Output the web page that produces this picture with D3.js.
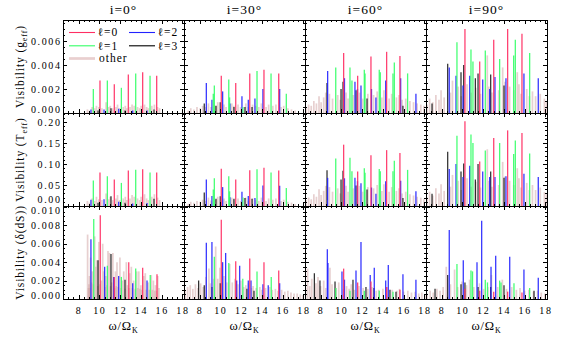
<!DOCTYPE html>
<html><head><meta charset="utf-8">
<script src="https://cdn.jsdelivr.net/npm/d3@7"></script>
<style>body{margin:0;background:#fff}svg{display:block}text{font-family:"Liberation Serif",serif}</style>
</head><body><svg id="c" width="566" height="340"></svg>
<script>
// ---------- tick / label data ----------
const inclinations = ["i=0°","i=30°","i=60°","i=90°"];
const xTicks = [8,10,12,14,16,18];
const yTicksG = [0,0.002,0.004,0.006];
const yTicksT = [0,0.05,0.10,0.15,0.20];
const yTicksD = [0,0.002,0.004,0.006,0.008,0.010];
const legendLabels = ["ℓ=0","ℓ=1","ℓ=2","ℓ=3","other"];

// ---------- i=0 ----------
const g0_l0=[[10.06,0.0027],[11.44,0.0024],[12.79,0.0032],[14.17,0.0034],[15.52,0.0031]];
const g0_l1=[[9.42,0.0020],[10.77,0.0027],[12.12,0.0021],[13.50,0.0033],[14.88,0.0031]];
const g0_l2=[[9.19,0.0003],[10.45,0.0003],[11.86,0.00035],[13.21,0.0002],[14.59,0.0002]];
const g0_l3=[[9.87,0.0002],[11.12,0.0004],[12.47,0.0002],[15.26,0.0003]];
const g0_oth=[[8.85,0.0003],[9.05,0.0002],[9.3,0.0005],[9.55,0.0004],[9.72,0.0006],[9.95,0.0005],[10.25,0.0004],[10.65,0.0009],[10.9,0.0005],[11.05,0.0006],[11.28,0.0004],[11.6,0.0005],[11.75,0.0007],[11.95,0.0004],[12.3,0.0005],[12.5,0.0006],[12.65,0.0004],[12.95,0.0005],[13.15,0.0007],[13.35,0.0006],[13.68,0.0005],[13.88,0.0004],[14.02,0.0006],[14.35,0.0007],[14.55,0.0005],[14.72,0.0004],[15.05,0.0006],[15.3,0.0007],[15.6,0.0005],[15.8,0.0004]];
const t0_l0=[[10.06,0.080],[11.44,0.063],[12.79,0.0845],[14.17,0.0874],[15.52,0.0795]];
const t0_l1=[[9.42,0.061],[10.77,0.071],[12.12,0.055],[13.50,0.0864],[14.88,0.080]];
const t0_l2=[[9.19,0.015],[10.45,0.016],[11.86,0.010],[13.21,0.006],[14.59,0.007]];
const t0_l3=[[9.87,0.008],[11.12,0.023],[12.47,0.008],[15.26,0.017]];
const t0_oth=[[8.85,0.012],[9.05,0.008],[9.3,0.018],[9.55,0.012],[9.72,0.022],[9.95,0.016],[10.25,0.014],[10.65,0.03],[10.9,0.016],[11.05,0.022],[11.28,0.014],[11.6,0.018],[11.75,0.026],[11.95,0.014],[12.3,0.018],[12.5,0.022],[12.65,0.014],[12.95,0.018],[13.15,0.026],[13.35,0.022],[13.68,0.018],[13.88,0.014],[14.02,0.022],[14.35,0.028],[14.55,0.018],[14.72,0.014],[15.05,0.022],[15.3,0.028],[15.6,0.02],[15.8,0.014]];
const d0_l0=[[10.09,0.0091],[11.44,0.0024],[12.83,0.0040],[14.17,0.0034],[15.55,0.0027]];
const d0_l1=[[9.46,0.0087],[10.77,0.0036],[12.12,0.0024],[13.50,0.0033],[14.90,0.0026]];
const d0_l2=[[9.19,0.0065],[10.51,0.0035],[11.38,0.0024],[11.86,0.0025],[13.21,0.0017],[14.59,0.0020]];
const d0_l3=[[9.87,0.0042],[11.12,0.0049],[12.47,0.0021]];
const d0_oth=[[8.87,0.0070],[8.95,0.0012],[9.0,0.0016],[9.05,0.0025],[9.1,0.0012],[9.15,0.0045],[9.25,0.0018],[9.32,0.0030],[9.42,0.0016],[9.55,0.0068],[9.66,0.0035],[9.76,0.0042],[9.85,0.0014],[9.95,0.0062],[10.05,0.0016],[10.2,0.0020],[10.32,0.0060],[10.42,0.0030],[10.55,0.0013],[10.63,0.0025],[10.73,0.0015],[10.83,0.0052],[10.98,0.0050],[11.08,0.0014],[11.2,0.0018],[11.3,0.0050],[11.48,0.0012],[11.55,0.0030],[11.62,0.0014],[11.7,0.0040],[11.8,0.0013],[11.98,0.0045],[12.08,0.0012],[12.2,0.0020],[12.35,0.0030],[12.48,0.0011],[12.6,0.0040],[12.7,0.0015],[12.86,0.0012],[12.93,0.0028],[13.08,0.0035],[13.18,0.0012],[13.3,0.0020],[13.45,0.0011],[13.6,0.0030],[13.7,0.0012],[13.8,0.0030],[13.9,0.0011],[14.0,0.0015],[14.1,0.0010],[14.28,0.0025],[14.42,0.0028],[14.52,0.0010],[14.7,0.0018],[14.8,0.0010],[15.0,0.0026],[15.1,0.0010],[15.2,0.0020],[15.32,0.0009],[15.4,0.0015],[15.5,0.0009],[15.62,0.0025],[15.74,0.0012]];

// ---------- i=30 ----------
const g30_l0=[[10.09,0.0031],[11.48,0.0025],[12.83,0.0033],[14.20,0.0036],[15.62,0.0033]];
const g30_l1=[[9.32,0.0016],[9.42,0.0023],[10.81,0.0028],[10.89,0.0013],[12.18,0.0005],[13.53,0.0035],[14.88,0.0033],[16.35,0.0016]];
const g30_l2=[[8.65,0.0025],[9.19,0.0011],[10.22,0.0018],[10.93,0.0008],[12.08,0.0014],[12.69,0.0011],[13.33,0.0012],[14.10,0.0020],[15.71,0.0020]];
const g30_l3=[[8.45,0.0008],[9.58,0.0006],[9.99,0.0009],[11.31,0.0005],[12.37,0.0005],[13.05,0.0005]];
const g30_oth=[[6.9,0.0002],[7.15,0.0004],[7.45,0.0003],[7.75,0.0005],[8.05,0.0004],[8.3,0.0006],[8.6,0.0005],[8.85,0.0008],[9.1,0.0005],[9.55,0.0006],[9.75,0.0009],[10.35,0.0007],[10.55,0.0005],[11.1,0.0008],[11.3,0.0006],[11.7,0.0007],[11.95,0.0005],[12.45,0.0008],[12.7,0.0005],[13.1,0.0007],[13.4,0.0006],[13.7,0.0005],[13.95,0.0008],[14.4,0.0005],[14.65,0.0007],[15.05,0.0006],[15.35,0.0007],[15.85,0.0005],[16.1,0.0006],[16.5,0.0004],[16.85,0.0003],[17.2,0.0002]];
const t30_l0=[[10.09,0.0884],[11.48,0.063],[12.83,0.0854],[14.20,0.0913],[15.62,0.0844]];
const t30_l1=[[9.32,0.039],[9.42,0.066],[10.81,0.071],[10.89,0.035],[12.18,0.020],[13.53,0.0874],[14.88,0.080],[16.35,0.043]];
const t30_l2=[[8.65,0.063],[9.19,0.024],[10.22,0.045],[10.93,0.021],[12.08,0.034],[12.69,0.024],[13.33,0.019],[14.10,0.049],[15.71,0.048]];
const t30_l3=[[8.45,0.032],[9.58,0.017],[9.99,0.023],[11.31,0.017],[12.37,0.019],[13.05,0.017]];
const t30_oth=[[6.9,0.005],[7.15,0.01],[7.45,0.008],[7.75,0.012],[8.05,0.01],[8.3,0.015],[8.6,0.012],[8.85,0.02],[9.1,0.013],[9.55,0.015],[9.75,0.022],[10.35,0.018],[10.55,0.012],[11.1,0.02],[11.3,0.015],[11.7,0.018],[11.95,0.012],[12.45,0.02],[12.7,0.012],[13.1,0.018],[13.4,0.015],[13.7,0.012],[13.95,0.02],[14.4,0.012],[14.65,0.018],[15.05,0.015],[15.35,0.018],[15.85,0.012],[16.1,0.015],[16.5,0.01],[16.85,0.008],[17.2,0.005]];
const d30_l0=[[10.09,0.0086],[11.48,0.0041],[12.83,0.0044],[14.20,0.0040],[15.62,0.0031]];
const d30_l1=[[9.42,0.0046],[10.81,0.0039],[12.16,0.0022],[13.53,0.0030],[14.90,0.0024]];
const d30_l2=[[8.65,0.0061],[9.19,0.0062],[10.22,0.0040],[10.51,0.0050],[11.57,0.0020],[11.86,0.0036],[12.69,0.0020],[12.95,0.0020],[14.10,0.0016],[14.61,0.0015],[15.71,0.0017]];
const d30_l3=[[7.91,0.0020],[8.45,0.0015],[9.19,0.0013],[9.99,0.0017],[12.56,0.0011],[13.24,0.0009]];
const d30_oth=[[6.6,0.0010],[6.85,0.0013],[7.1,0.0015],[7.35,0.0011],[7.6,0.0016],[7.85,0.0012],[8.1,0.0017],[8.35,0.0013],[8.6,0.0024],[8.9,0.0033],[9.05,0.0017],[9.35,0.0022],[9.55,0.0057],[9.75,0.0022],[9.95,0.0034],[10.15,0.0018],[10.35,0.0025],[10.62,0.0018],[10.9,0.0038],[11.15,0.0018],[11.4,0.0022],[11.7,0.0016],[11.98,0.0020],[12.25,0.0013],[12.45,0.0015],[12.7,0.0017],[13.0,0.0012],[13.15,0.0014],[13.45,0.0012],[13.8,0.0013],[14.0,0.0010],[14.35,0.0012],[14.75,0.0013],[15.0,0.0010],[15.3,0.0011],[15.55,0.0009],[15.9,0.0010],[16.2,0.0008],[16.5,0.0009],[16.8,0.0007],[17.1,0.0006],[17.4,0.0006],[17.7,0.0005],[17.95,0.0004]];

// ---------- i=60 ----------
const g60_l0=[[10.22,0.0050],[11.57,0.0031],[12.85,0.0047],[14.36,0.0051],[15.64,0.00475]];
const g60_l1=[[9.46,0.0038],[10.83,0.0038],[11.02,0.0027],[12.21,0.0036],[12.28,0.0033],[13.65,0.0036],[13.75,0.0034],[14.97,0.0033],[15.10,0.0042],[16.38,0.0033]];
const g60_l2=[[8.68,0.0035],[10.30,0.0029],[11.31,0.0026],[11.55,0.0020],[11.89,0.0023],[12.90,0.0020],[13.33,0.0013],[14.27,0.0027],[15.71,0.0029],[17.18,0.0016]];
const g60_l3=[[8.62,0.0025],[9.97,0.0020],[10.16,0.0026],[11.41,0.0019],[12.47,0.0012],[15.93,0.0006]];
const g60_oth=[[6.6,0.0005],[6.85,0.0007],[7.1,0.0006],[7.35,0.0010],[7.6,0.0008],[7.85,0.0014],[8.05,0.0009],[8.3,0.0013],[8.5,0.0017],[8.85,0.0016],[9.15,0.0012],[9.65,0.0015],[9.9,0.0011],[10.45,0.0017],[10.65,0.0012],[11.15,0.0015],[11.75,0.0017],[12.05,0.0012],[12.55,0.0016],[13.1,0.0015],[13.45,0.0018],[13.9,0.0013],[14.1,0.0019],[14.6,0.0012],[14.85,0.0016],[15.3,0.0013],[15.55,0.0015],[15.85,0.0011],[16.2,0.0012],[16.6,0.0010],[16.95,0.0009],[17.3,0.0008],[17.65,0.0007],[17.95,0.0006]];
const t60_l0=[[10.22,0.146],[11.57,0.082],[12.85,0.121],[14.36,0.133],[15.64,0.126]];
const t60_l1=[[9.46,0.113],[10.83,0.115],[11.02,0.083],[12.21,0.090],[12.28,0.079],[13.65,0.088],[13.75,0.083],[14.97,0.083],[15.10,0.108],[16.38,0.086]];
const t60_l2=[[8.68,0.067],[10.30,0.066],[11.31,0.067],[11.55,0.059],[11.89,0.054],[12.90,0.044],[13.33,0.029],[14.27,0.059],[15.71,0.060],[17.18,0.035]];
const t60_l3=[[8.62,0.085],[9.97,0.063],[10.16,0.084],[11.41,0.049],[12.47,0.039],[15.93,0.019]];
const t60_oth=[[6.6,0.014],[6.85,0.02],[7.1,0.016],[7.35,0.028],[7.6,0.022],[7.85,0.04],[8.05,0.026],[8.3,0.036],[8.5,0.048],[8.85,0.045],[9.15,0.034],[9.65,0.042],[9.9,0.03],[10.45,0.048],[10.65,0.034],[11.15,0.042],[11.75,0.048],[12.05,0.034],[12.55,0.045],[13.1,0.042],[13.45,0.05],[13.9,0.036],[14.1,0.052],[14.6,0.034],[14.85,0.045],[15.3,0.036],[15.55,0.042],[15.85,0.03],[16.2,0.034],[16.6,0.028],[16.95,0.025],[17.3,0.022],[17.65,0.02],[17.95,0.016]];
const d60_l0=[[10.22,0.0033],[11.57,0.0018],[12.85,0.0019],[14.36,0.0013],[15.64,0.0010]];
const d60_l1=[[9.46,0.0012],[10.83,0.0009],[12.21,0.0009],[13.65,0.0009],[14.97,0.0008]];
const d60_l2=[[8.65,0.0054],[8.71,0.0039],[10.06,0.0030],[10.30,0.0021],[11.41,0.0031],[11.89,0.0062],[12.78,0.0026],[13.17,0.0034],[14.27,0.0020],[14.52,0.0037],[15.93,0.0027],[17.18,0.0021]];
const d60_l3=[[7.40,0.0028],[7.94,0.0020],[9.39,0.0019],[11.12,0.0021],[12.37,0.0013],[13.14,0.0012],[14.68,0.0010],[15.26,0.0008]];
const d60_oth=[[6.55,0.0012],[6.75,0.0033],[6.95,0.0014],[7.15,0.0022],[7.55,0.0017],[7.75,0.0024],[8.0,0.0014],[8.3,0.0020],[8.5,0.0012],[8.9,0.0034],[9.1,0.0016],[9.5,0.0012],[9.75,0.0018],[10.2,0.0011],[10.5,0.0014],[10.75,0.0011],[10.95,0.0016],[11.25,0.0010],[11.7,0.0014],[12.1,0.0012],[12.55,0.0011],[12.95,0.0013],[13.35,0.0009],[13.6,0.0010],[14.0,0.0011],[14.4,0.0013],[14.9,0.0010],[15.35,0.0009],[15.6,0.0011],[16.0,0.0008],[16.4,0.0009],[16.75,0.0007],[17.1,0.0008],[17.45,0.0006],[17.75,0.0007],[18.05,0.0005]];

// ---------- i=90 ----------
const g90_l0=[[10.25,0.0070],[11.67,0.0043],[13.02,0.0061],[14.36,0.0070],[15.74,0.0066]];
const g90_l1=[[9.48,0.0059],[10.83,0.0053],[11.02,0.0043],[12.21,0.0052],[13.59,0.0045],[14.94,0.0048],[15.10,0.0061],[16.48,0.0050]];
const g90_l2=[[8.74,0.0038],[9.39,0.0031],[10.06,0.0023],[10.71,0.0031],[11.96,0.0028],[12.63,0.0020],[13.14,0.0030],[14.20,0.0029],[15.93,0.0033],[17.31,0.0029]];
const g90_l3=[[7.08,0.0008],[8.59,0.0041],[9.87,0.0034],[10.13,0.0040],[11.25,0.0029],[11.51,0.0033],[12.73,0.0032],[14.01,0.0023]];
const g90_oth=[[6.6,0.0007],[6.85,0.0012],[7.15,0.0009],[7.45,0.0015],[7.75,0.0011],[7.95,0.0019],[8.25,0.0013],[8.85,0.0017],[9.05,0.0027],[9.6,0.0022],[9.9,0.0014],[10.45,0.0024],[10.85,0.0017],[11.3,0.0021],[11.75,0.0016],[12.4,0.0048],[12.55,0.0022],[12.85,0.0017],[13.5,0.0019],[13.88,0.0038],[14.1,0.0026],[14.55,0.0022],[14.95,0.0019],[15.29,0.0034],[15.45,0.0024],[15.65,0.0016],[16.2,0.0020],[16.45,0.0014],[16.75,0.0018],[17.05,0.0014],[17.5,0.0016],[17.9,0.0012],[18.1,0.0010]];
const t90_l0=[[10.25,0.202],[11.67,0.106],[13.02,0.162],[14.36,0.180],[15.74,0.174]];
const t90_l1=[[9.48,0.167],[10.83,0.170],[11.02,0.150],[12.21,0.132],[13.59,0.150],[14.94,0.124],[15.10,0.156],[16.48,0.125]];
const t90_l2=[[8.74,0.088],[9.39,0.100],[10.06,0.069],[10.71,0.096],[11.96,0.082],[12.63,0.069],[13.14,0.069],[14.20,0.071],[15.93,0.077],[17.31,0.069]];
const t90_l3=[[7.08,0.029],[8.59,0.129],[9.87,0.082],[10.13,0.101],[11.25,0.063],[11.51,0.100],[12.73,0.082],[14.01,0.067]];
const t90_oth=[[6.6,0.02],[6.85,0.034],[7.15,0.025],[7.45,0.042],[7.75,0.03],[7.95,0.052],[8.25,0.036],[8.85,0.046],[9.05,0.074],[9.6,0.06],[9.9,0.038],[10.45,0.066],[10.85,0.046],[11.3,0.058],[11.75,0.044],[12.4,0.135],[12.55,0.06],[12.85,0.046],[13.5,0.05],[13.88,0.105],[14.1,0.07],[14.55,0.06],[14.95,0.05],[15.29,0.09],[15.45,0.066],[15.65,0.044],[16.2,0.055],[16.45,0.038],[16.75,0.05],[17.05,0.038],[17.5,0.044],[17.9,0.033],[18.1,0.028]];
const d90_l0=[[10.25,0.0011],[11.67,0.0009],[13.02,0.0008],[14.36,0.0008],[15.74,0.0007]];
const d90_l1=[[9.48,0.0038],[10.83,0.0031],[10.98,0.0030],[12.21,0.0021],[12.42,0.0018],[13.59,0.0020],[13.72,0.0018],[14.97,0.0017],[16.48,0.0012]];
const d90_l2=[[8.74,0.0075],[10.09,0.0042],[11.41,0.0040],[11.86,0.0085],[12.76,0.0035],[13.21,0.0047],[14.56,0.0046],[15.93,0.0032],[17.31,0.0023]];
const d90_l3=[[7.37,0.0011],[8.59,0.0026],[9.87,0.0016],[10.25,0.0018],[11.51,0.0013],[12.73,0.0013],[14.01,0.0015],[16.90,0.0009]];
const d90_oth=[[6.6,0.0006],[6.9,0.0009],[7.2,0.0007],[7.55,0.0011],[7.85,0.0009],[8.15,0.0013],[8.45,0.0035],[8.85,0.0016],[9.25,0.0032],[9.55,0.0013],[9.95,0.0019],[10.4,0.0015],[10.7,0.0021],[11.1,0.0013],[11.65,0.0017],[12.05,0.0011],[12.45,0.0013],[12.8,0.0026],[13.4,0.0013],[13.85,0.0021],[14.25,0.0011],[14.75,0.0013],[15.2,0.0010],[15.55,0.0012],[16.0,0.0009],[16.4,0.0010],[16.85,0.0008],[17.25,0.0009],[17.6,0.0007],[17.95,0.0006]];

// ---------- table built from the arrays ----------
const panelData = [
  [{l0:g0_l0,l1:g0_l1,l2:g0_l2,l3:g0_l3,oth:g0_oth},{l0:g30_l0,l1:g30_l1,l2:g30_l2,l3:g30_l3,oth:g30_oth},{l0:g60_l0,l1:g60_l1,l2:g60_l2,l3:g60_l3,oth:g60_oth},{l0:g90_l0,l1:g90_l1,l2:g90_l2,l3:g90_l3,oth:g90_oth}],
  [{l0:t0_l0,l1:t0_l1,l2:t0_l2,l3:t0_l3,oth:t0_oth},{l0:t30_l0,l1:t30_l1,l2:t30_l2,l3:t30_l3,oth:t30_oth},{l0:t60_l0,l1:t60_l1,l2:t60_l2,l3:t60_l3,oth:t60_oth},{l0:t90_l0,l1:t90_l1,l2:t90_l2,l3:t90_l3,oth:t90_oth}],
  [{l0:d0_l0,l1:d0_l1,l2:d0_l2,l3:d0_l3,oth:d0_oth},{l0:d30_l0,l1:d30_l1,l2:d30_l2,l3:d30_l3,oth:d30_oth},{l0:d60_l0,l1:d60_l1,l2:d60_l2,l3:d60_l3,oth:d60_oth},{l0:d90_l0,l1:d90_l1,l2:d90_l2,l3:d90_l3,oth:d90_oth}]
];

// ---------- layout & style ----------
const colL=[63,184,305,426], W=121;
const rowT=[20,113,206], H=93;
const x=d3.scaleLinear().domain([6.5,18.15]).range([0,W]);
const yScales=[
  d3.scaleLinear().domain([0,0.00775]).range([H,0]),
  d3.scaleLinear().domain([0,0.2214]).range([H,0]),
  d3.scaleLinear().domain([0,0.0101]).range([H,0])
];
const yMajor=[yTicksG,yTicksT,yTicksD];
const yMinor=[d3.range(0,0.0078,0.0005),d3.range(0,0.221,0.01),d3.range(0,0.0101,0.0005)];
const yFmt=[d3.format(".3f"),d3.format(".2f"),d3.format(".3f")];
const xMinor=d3.range(6.5,18.16,0.5);
const order=["oth","l3","l2","l1","l0"];
const col={l0:"#ff2e63",l1:"#33ff66",l2:"#2222ff",l3:"#000000",oth:"#cfa2a2"};
const op={l0:0.9,l1:0.9,l2:0.9,l3:0.85,oth:0.5};
const sw={l0:1.3,l1:1.3,l2:1.3,l3:1.2,oth:1.7};

const svg=d3.select("#c");
const FONT='"Liberation Serif",serif';

function styleAxis(sel){
  sel.select(".domain").remove();
  sel.selectAll(".tick line").attr("stroke","#000").attr("stroke-width",1).attr("shape-rendering","crispEdges");
  sel.selectAll(".tick text").attr("font-family",FONT).attr("font-size",10).attr("letter-spacing","1.6px").attr("fill","#000");
  sel.attr("font-family",FONT);
}

for(let ri=0;ri<3;ri++){
  for(let ci=0;ci<4;ci++){
    const g=svg.append("g").attr("transform",`translate(${colL[ci]},${rowT[ri]})`);
    const y=yScales[ri];
    const cid=`clip${ri}${ci}`;
    g.append("clipPath").attr("id",cid).append("rect").attr("width",W).attr("height",H);
    const marks=g.append("g").attr("clip-path",`url(#${cid})`);
    order.forEach(k=>{
      marks.append("g").selectAll("line").data(panelData[ri][ci][k]).join("line")
        .attr("x1",d=>x(d[0])).attr("x2",d=>x(d[0]))
        .attr("y1",y(0)).attr("y2",d=>y(d[1]))
        .attr("stroke",col[k]).attr("stroke-width",sw[k]).attr("stroke-opacity",op[k]);
    });
    g.append("rect").attr("width",W).attr("height",H).attr("fill","none")
      .attr("stroke","#000").attr("stroke-width",1).attr("shape-rendering","crispEdges");
    g.append("g").attr("transform",`translate(0,${H})`)
      .call(d3.axisBottom(x).tickValues(xMinor).tickSize(-2).tickFormat("")).call(styleAxis);
    g.append("g").call(d3.axisTop(x).tickValues(xMinor).tickSize(-2).tickFormat("")).call(styleAxis);
    g.append("g").call(d3.axisTop(x).tickValues(xTicks).tickSize(-4).tickFormat("")).call(styleAxis);
    g.append("g").attr("transform",`translate(0,${H})`)
      .call(d3.axisBottom(x).tickValues(xTicks).tickSize(-4).tickPadding(8)
        .tickFormat(ri===2?d3.format("d"):"")).call(styleAxis);
    g.append("g").call(d3.axisLeft(y).tickValues(yMinor[ri]).tickSize(-2).tickFormat("")).call(styleAxis);
    g.append("g").attr("transform",`translate(${W},0)`)
      .call(d3.axisRight(y).tickValues(yMinor[ri]).tickSize(-2).tickFormat("")).call(styleAxis);
    g.append("g").attr("transform",`translate(${W},0)`)
      .call(d3.axisRight(y).tickValues(yMajor[ri]).tickSize(-4).tickFormat("")).call(styleAxis);
    const la=g.append("g")
      .call(d3.axisLeft(y).tickValues(yMajor[ri]).tickSize(-4).tickPadding(1.5)
        .tickFormat(ci===0?yFmt[ri]:"")).call(styleAxis);
    const top=yMajor[ri][yMajor[ri].length-1];
    la.selectAll(".tick text").filter(d=>d===0).attr("y",ri===1?-6.5:-4);
    if(ri===2) la.selectAll(".tick text").filter(d=>d===top).attr("y",3);
  }
}

// column titles
svg.append("g").selectAll("text").data(inclinations).join("text")
  .attr("x",(d,i)=>colL[i]+W/2).attr("y",14).attr("text-anchor","middle")
  .attr("font-family",FONT).attr("font-size",13.5).attr("letter-spacing","1px").text(d=>d);

// y-axis titles
const yTitles=[["Visibility (g","eff",")"],["Visibility (T","eff",")"],["Visibility (δ(dS))","",""]];
yTitles.forEach((t,ri)=>{
  const tx=svg.append("text").attr("transform",`translate(24,${rowT[ri]+H/2}) rotate(-90)`)
    .attr("text-anchor","middle").attr("font-family",FONT).attr("font-size",11.5).attr("letter-spacing","0.9px");
  tx.append("tspan").text(t[0]);
  if(t[1]){
    tx.append("tspan").attr("dy",3).attr("font-size",8).text(t[1]);
    tx.append("tspan").attr("dy",-3).text(t[2]);
  }
});

// x-axis titles
colL.forEach(cx=>{
  const tx=svg.append("text").attr("x",cx+W/2).attr("y",330).attr("text-anchor","middle")
    .attr("font-family",FONT).attr("font-size",12.5).attr("letter-spacing","0.8px");
  tx.append("tspan").text("ω/Ω");
  tx.append("tspan").attr("dy",3).attr("font-size",8).text("K");
});

// legend
const legKeys=["l0","l1","l2","l3","oth"];
const legPos=[[69,32.5],[69,45.8],[129,32.5],[129,45.8],[69,58.5]];
const lg=svg.append("g");
legKeys.forEach((k,i)=>{
  const [lx,ly]=legPos[i];
  lg.append("line").attr("x1",lx).attr("x2",lx+26).attr("y1",ly).attr("y2",ly)
    .attr("stroke",k==="oth"?"#e9cfcf":col[k]).attr("stroke-width",k==="oth"?2.7:1.1);
  lg.append("text").attr("x",lx+(k==="oth"?30:28.5)).attr("y",ly+3.8)
    .attr("font-family",FONT).attr("font-size",11.5).attr("letter-spacing","1px").text(legendLabels[i]);
});
</script>
</body></html>
